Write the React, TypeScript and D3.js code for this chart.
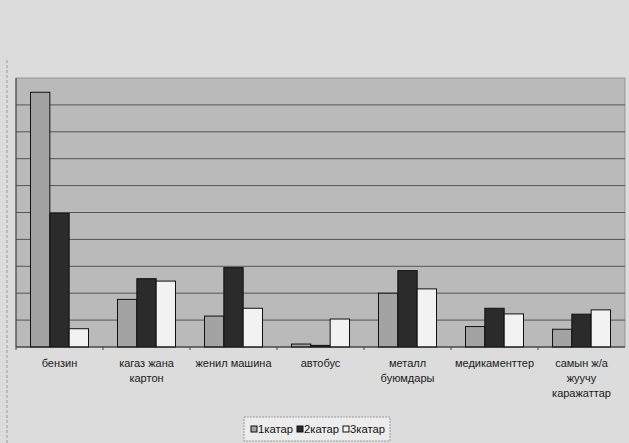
import * as d3 from "d3";

// categories (each label split into its printed lines)
const categories = [
  "бензин",
  "кагаз жана картон",
  "женил машина",
  "автобус",
  "металл буюмдары",
  "медикаменттер",
  "самын ж/а жуучу каражаттар",
];
const labelLines = [
  ["бензин"],
  ["кагаз жана", "картон"],
  ["женил машина"],
  ["автобус"],
  ["металл", "буюмдары"],
  ["медикаменттер"],
  ["самын ж/а", "жуучу", "каражаттар"],
];

const seriesNames = ["1катар", "2катар", "3катар"];
const series1 = [9.47, 1.77, 1.15, 0.11, 2.0, 0.76, 0.66];
const series2 = [4.97, 2.54, 2.95, 0.06, 2.84, 1.44, 1.22];
const series3 = [0.68, 2.45, 1.44, 1.04, 2.16, 1.23, 1.38];
const yTicks = [0, 1, 2, 3, 4, 5, 6, 7, 8, 9, 10];

const fills = ["#a3a3a3", "#2b2b2b", "#f2f2f2"];

export default function App() {
  const width = 629;
  const height = 443;
  const plot = { left: 16, right: 625, top: 78, bottom: 347 };

  const x = d3
    .scaleBand<string>()
    .domain(categories)
    .range([plot.left, plot.right]);
  const xs = d3
    .scaleBand<number>()
    .domain([0, 1, 2])
    .range([0, x.bandwidth()])
    .paddingInner(0)
    .paddingOuter(0.75);
  const y = d3.scaleLinear().domain([0, 10]).range([plot.bottom, plot.top]);

  const all = [series1, series2, series3];
  const font = "'Liberation Sans', Arial, sans-serif";

  // legend layout
  const legendX = 244;
  const legendY = 417;
  const items = [
    { sq: 251, tx: 258 },
    { sq: 297, tx: 304 },
    { sq: 343, tx: 350 },
  ];

  return (
    <svg
      width={width}
      height={height}
      style={{ position: "absolute", left: 0, top: 0 }}
      fontFamily={font}
    >
      <rect width={width} height={height} fill="#dcdcdc" />
      <line x1={7} x2={7} y1={60} y2={443} stroke="#9a9a9a" strokeDasharray="3,2" />
      <rect
        x={plot.left}
        y={plot.top}
        width={plot.right - plot.left}
        height={plot.bottom - plot.top}
        fill="#bababa"
        stroke="#8a8a8a"
        strokeWidth={0.8}
      />
      {yTicks.slice(1, -1).map((t) => (
        <line
          key={t}
          x1={plot.left}
          x2={plot.right}
          y1={y(t)}
          y2={y(t)}
          stroke="#4a4a4a"
          strokeWidth={0.9}
        />
      ))}
      <line x1={plot.left} x2={plot.left} y1={plot.top} y2={plot.bottom} stroke="#3a3a3a" />
      {all.map((vals, si) =>
        vals.map((v, ci) => (
          <rect
            key={`${si}-${ci}`}
            x={(x(categories[ci]) ?? 0) + (xs(si) ?? 0)}
            y={y(v)}
            width={xs.bandwidth()}
            height={y(0) - y(v)}
            fill={fills[si]}
            stroke="#111"
            strokeWidth={1}
          />
        ))
      )}
      <line x1={plot.left} x2={plot.right} y1={plot.bottom} y2={plot.bottom} stroke="#222" />
      {categories.map((c) => (
        <line
          key={c}
          x1={x(c) ?? 0}
          x2={x(c) ?? 0}
          y1={plot.bottom}
          y2={plot.bottom + 3}
          stroke="#444"
        />
      ))}
      {categories.map((c, i) => (
        <text
          key={c}
          x={(x(c) ?? 0) + x.bandwidth() / 2}
          y={367}
          textAnchor="middle"
          fontSize={11}
          fill="#1a1a1a"
        >
          {labelLines[i].map((ln, j) => (
            <tspan key={j} x={(x(c) ?? 0) + x.bandwidth() / 2} dy={j === 0 ? 0 : 15}>
              {ln}
            </tspan>
          ))}
        </text>
      ))}
      <rect
        x={legendX}
        y={legendY}
        width={146}
        height={24}
        fill="#ececec"
        stroke="#888"
        strokeDasharray="2,1"
        strokeWidth={0.8}
      />
      {seriesNames.map((s, i) => (
        <g key={s}>
          <rect x={items[i].sq} y={426} width={6} height={6} fill={fills[i]} stroke="#111" />
          <text
            x={items[i].tx}
            y={433}
            fontSize={11.5}
            fill="#111"
            textLength={35}
            lengthAdjust="spacingAndGlyphs"
          >
            {s}
          </text>
        </g>
      ))}
    </svg>
  );
}
